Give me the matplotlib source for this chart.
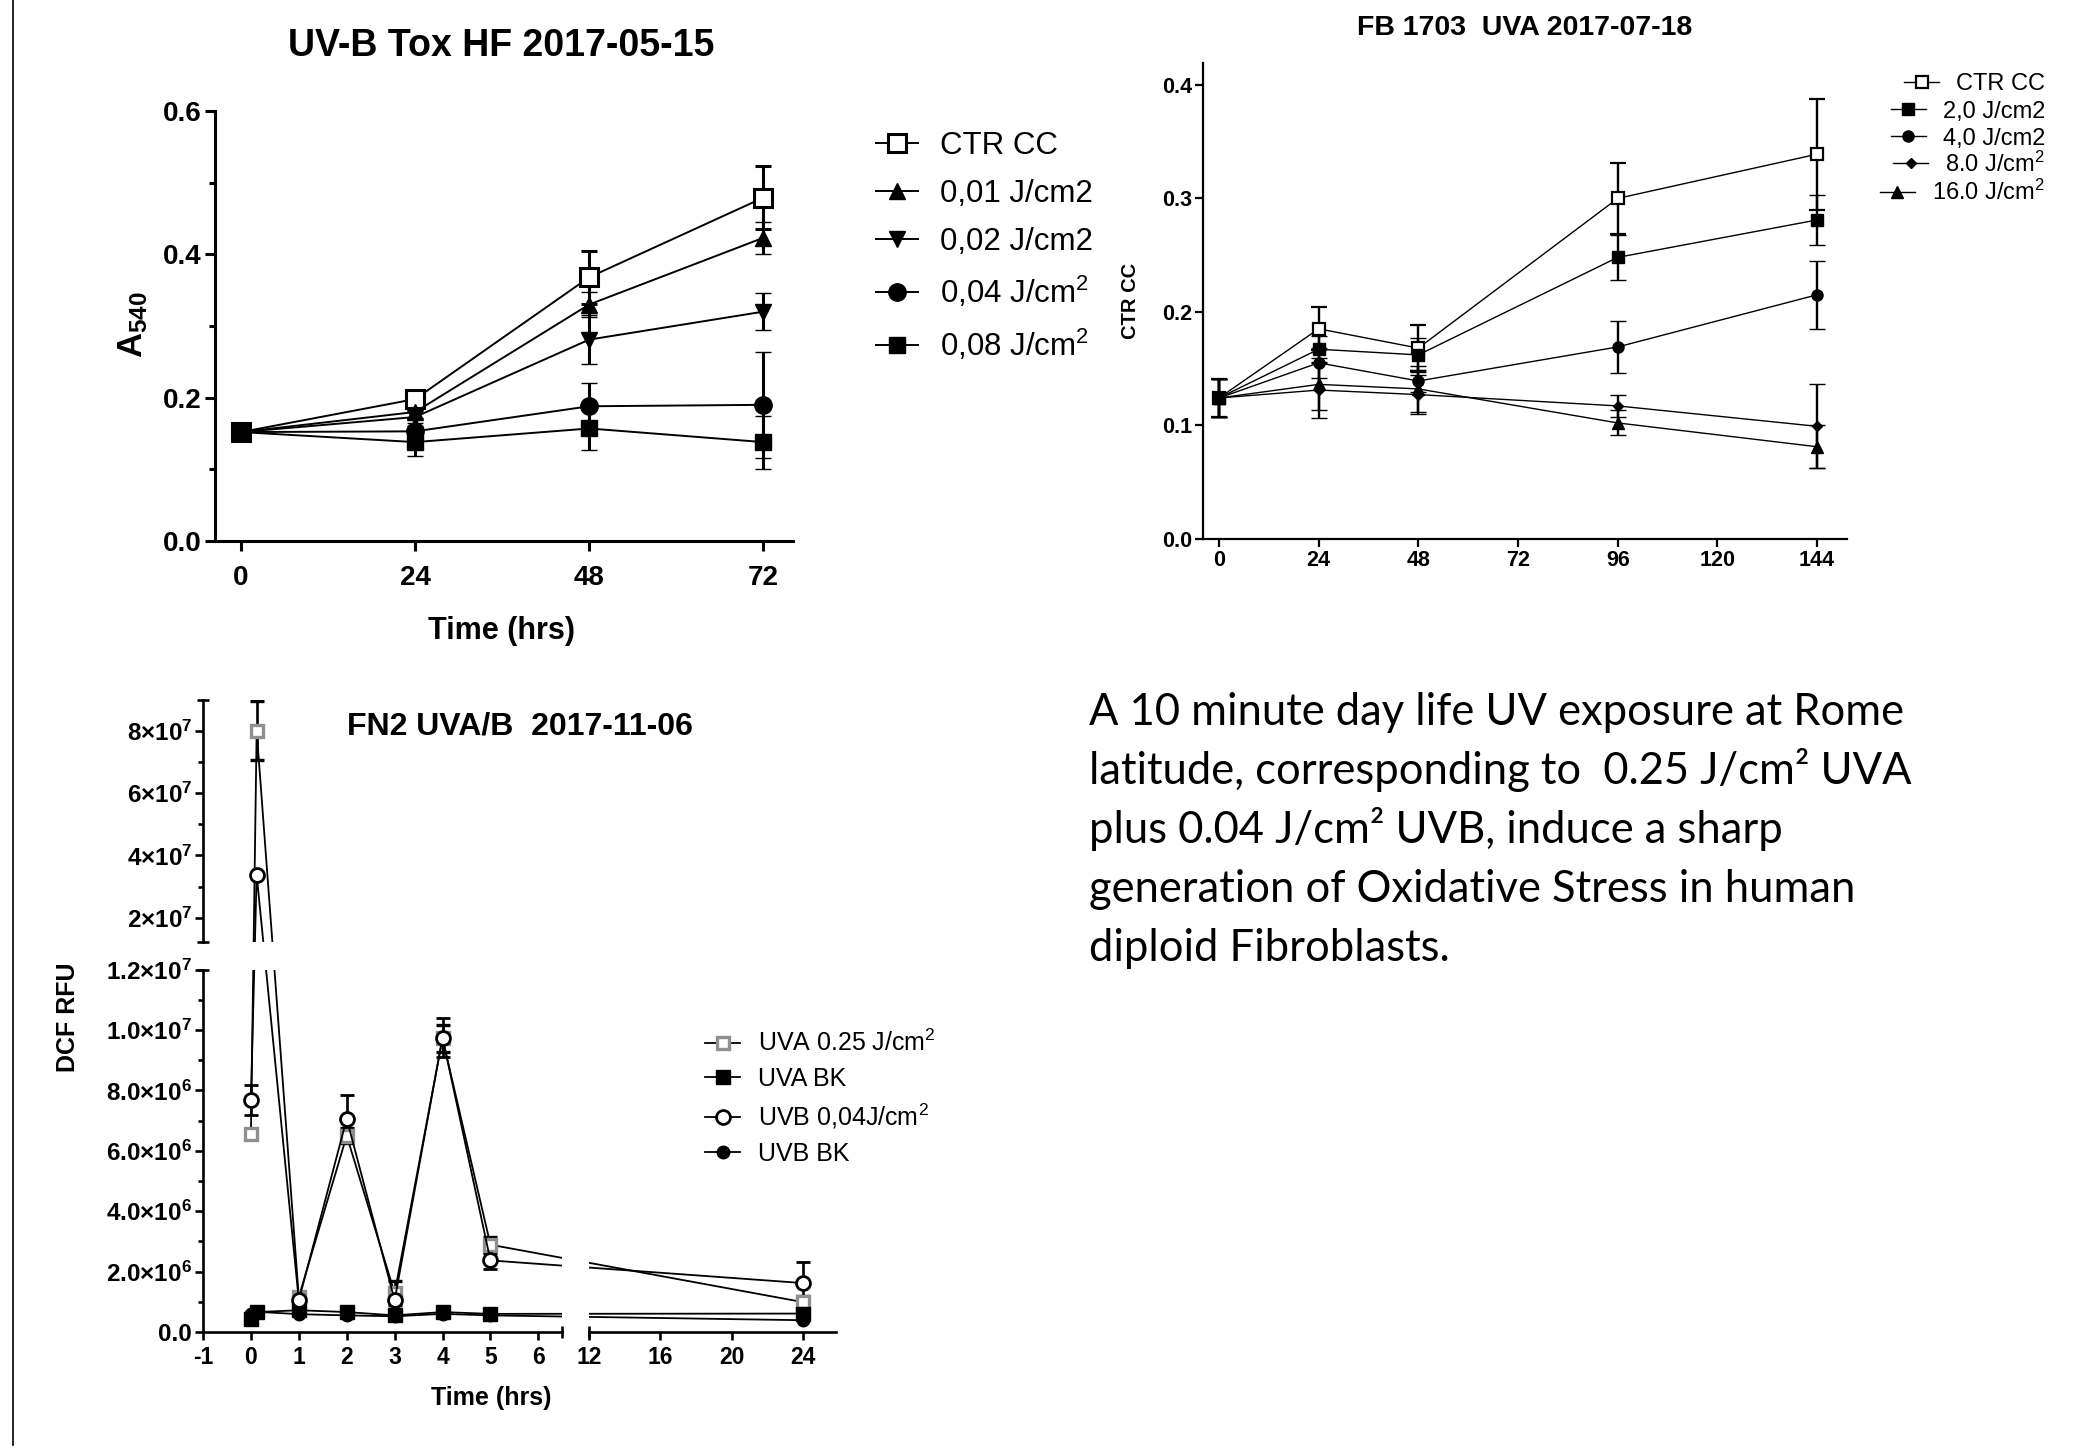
import numpy as np
import matplotlib
matplotlib.use("Agg")
import matplotlib.pyplot as plt
from matplotlib.lines import Line2D

# ---------------- data ----------------
# Panel 1: UV-B Tox HF 2017-05-15
p1_title = "UV-B Tox HF 2017-05-15"
p1_time = [0, 24, 48, 72]
p1_labels = ["CTR CC", "0,01 J/cm2", "0,02 J/cm2", "0,04 J/cm$^{2}$", "0,08 J/cm$^{2}$"]
p1_ctr = [0.152, 0.198, 0.368, 0.479]
p1_ctr_err = [0.005, 0.010, 0.037, 0.044]
p1_d001 = [0.152, 0.180, 0.330, 0.423]
p1_d001_err = [0.005, 0.008, 0.018, 0.022]
p1_d002 = [0.152, 0.173, 0.281, 0.320]
p1_d002_err = [0.005, 0.008, 0.034, 0.026]
p1_d004 = [0.152, 0.153, 0.188, 0.190]
p1_d004_err = [0.005, 0.007, 0.033, 0.074]
p1_d008 = [0.152, 0.138, 0.157, 0.138]
p1_d008_err = [0.005, 0.019, 0.030, 0.037]
p1_yticks = [0.0, 0.2, 0.4, 0.6]
p1_yticklabels = ["0.0", "0.2", "0.4", "0.6"]
p1_yminor = [0.1, 0.3, 0.5]
p1_xticks = [0, 24, 48, 72]

# Panel 2: FB 1703 UVA 2017-07-18
p2_title = "FB 1703  UVA 2017-07-18"
p2_time = [0, 24, 48, 96, 144]
p2_labels = ["CTR CC", "2,0 J/cm2", "4,0 J/cm2", "8.0 J/cm$^{2}$", "16.0 J/cm$^{2}$"]
p2_ctr = [0.124, 0.185, 0.168, 0.300, 0.339]
p2_ctr_err = [0.017, 0.019, 0.020, 0.031, 0.049]
p2_d2 = [0.124, 0.167, 0.162, 0.248, 0.281]
p2_d2_err = [0.017, 0.012, 0.015, 0.020, 0.022]
p2_d4 = [0.124, 0.155, 0.139, 0.169, 0.215]
p2_d4_err = [0.017, 0.013, 0.010, 0.023, 0.030]
p2_d8 = [0.124, 0.131, 0.127, 0.117, 0.099]
p2_d8_err = [0.017, 0.025, 0.017, 0.010, 0.037]
p2_d16 = [0.124, 0.136, 0.132, 0.102, 0.081]
p2_d16_err = [0.017, 0.023, 0.020, 0.011, 0.019]
p2_xticks = [0, 24, 48, 72, 96, 120, 144]
p2_yticks = [0.0, 0.1, 0.2, 0.3, 0.4]
p2_yticklabels = ["0.0", "0.1", "0.2", "0.3", "0.4"]

# Panel 3: FN2 UVA/B 2017-11-06 (broken axes)
p3_title = "FN2 UVA/B  2017-11-06"
p3_time = [0, 0.12, 1, 2, 3, 4, 5, 24]
p3_labels = ["UVA 0.25 J/cm$^{2}$", "UVA BK", "UVB 0,04J/cm$^{2}$", "UVB BK"]
p3_uva = [6.55e6, 8.0e7, 1.16e6, 6.5e6, 1.29e6, 9.72e6, 2.89e6, 0.99e6]
p3_uva_err = [0.15e6, 0.95e7, 0.15e6, 0.25e6, 0.40e6, 0.45e6, 0.26e6, 0.20e6]
p3_uvabk = [0.44e6, 0.66e6, 0.72e6, 0.66e6, 0.55e6, 0.66e6, 0.60e6, 0.61e6]
p3_uvabk_err = [0.05e6, 0.05e6, 0.05e6, 0.05e6, 0.05e6, 0.05e6, 0.05e6, 0.05e6]
p3_uvb = [7.68e6, 3.38e7, 1.05e6, 7.06e6, 1.05e6, 9.75e6, 2.37e6, 1.62e6]
p3_uvb_err = [0.50e6, 0.10e6, 0.10e6, 0.78e6, 0.30e6, 0.65e6, 0.27e6, 0.70e6]
p3_uvbbk = [0.59e6, 0.67e6, 0.59e6, 0.55e6, 0.52e6, 0.60e6, 0.55e6, 0.39e6]
p3_uvbbk_err = [0.03e6, 0.03e6, 0.03e6, 0.03e6, 0.03e6, 0.03e6, 0.03e6, 0.03e6]
p3_xticks = [-1, 0, 1, 2, 3, 4, 5, 6, 12, 16, 20, 24]
p3_xticklabels = ["-1", "0", "1", "2", "3", "4", "5", "6", "12", "16", "20", "24"]
p3_yticks = [0, 2e6, 4e6, 6e6, 8e6, 1.0e7, 1.2e7, 2e7, 4e7, 6e7, 8e7]
p3_yticklabels = ["0.0", "2.0×10$^{\\mathbf{6}}$", "4.0×10$^{\\mathbf{6}}$", "6.0×10$^{\\mathbf{6}}$",
                  "8.0×10$^{\\mathbf{6}}$", "1.0×10$^{\\mathbf{7}}$", "1.2×10$^{\\mathbf{7}}$",
                  "2×10$^{\\mathbf{7}}$", "4×10$^{\\mathbf{7}}$", "6×10$^{\\mathbf{7}}$", "8×10$^{\\mathbf{7}}$"]
p3_yminor = [1e6, 3e6, 5e6, 7e6, 9e6, 1.1e7, 3e7, 5e7, 7e7]

text_lines = [
    "A 10 minute day life UV exposure at Rome",
    "latitude, corresponding to  0.25 J/cm\u00b2 UVA",
    "plus 0.04 J/cm\u00b2 UVB, induce a sharp",
    "generation of Oxidative Stress in human",
    "diploid Fibroblasts.",
]

# ---------------- style ----------------
plt.rcParams["font.family"] = ["Liberation Sans", "DejaVu Sans"]
plt.rcParams["mathtext.fontset"] = "custom"
plt.rcParams["mathtext.rm"] = "Liberation Sans"
plt.rcParams["mathtext.bf"] = "Liberation Sans:bold"
plt.rcParams["mathtext.it"] = "Liberation Sans:italic"
plt.rcParams["mathtext.default"] = "regular"

W, H = 2080, 1453
fig = plt.figure(figsize=(20.8, 14.53), dpi=100)


def box(l, r, t, b):
    return [l / W, 1 - b / H, (r - l) / W, (b - t) / H]


def fpos(x, y):
    return x / W, 1 - y / H


def series(ax, x, y, e, marker, ms, mfc, mec, lw, elw, cap, mew, zorder=2):
    c = ax.errorbar(x, y, yerr=e, fmt="-", marker=marker, ms=ms, mfc=mfc, mec=mec,
                    mew=mew, color="black", lw=lw, ecolor="black", elinewidth=elw,
                    capsize=cap, capthick=elw, zorder=zorder)
    return c[0]


# ---------------- panel 1 ----------------
ax1 = fig.add_axes(box(215, 793, 111, 541))
ax1.set_xlim(-3.59, 76.1)
ax1.set_ylim(0, 0.6)
for s in ["top", "right"]:
    ax1.spines[s].set_visible(False)
for s in ["left", "bottom"]:
    ax1.spines[s].set_linewidth(2.2)
kw1 = dict(lw=1.4, elw=2.2, cap=6)
h1 = [
    series(ax1, p1_time, p1_ctr, p1_ctr_err, "s", 13, "white", "black", mew=2.2, **kw1),
    series(ax1, p1_time, p1_d001, p1_d001_err, "^", 12, "black", "black", mew=1, **kw1),
    series(ax1, p1_time, p1_d002, p1_d002_err, "v", 12, "black", "black", mew=1, **kw1),
    series(ax1, p1_time, p1_d004, p1_d004_err, "o", 12.5, "black", "black", mew=1, **kw1),
    series(ax1, p1_time, p1_d008, p1_d008_err, "s", 12, "black", "black", mew=1, **kw1),
]
ax1.set_xticks(p1_xticks, labels=[str(v) for v in p1_xticks], fontsize=20, fontweight="bold")
ax1.set_yticks(p1_yticks, labels=p1_yticklabels, fontsize=20, fontweight="bold")
ax1.set_yticks(p1_yminor, minor=True)
ax1.tick_params(axis="x", which="major", length=7.5, width=2.2, pad=10)
ax1.tick_params(axis="y", which="major", length=7.5, width=2.2, pad=2)
ax1.tick_params(axis="y", which="minor", length=4.5, width=2.2)
fig.text(*fpos(501.6, 46), p1_title, ha="center", va="center", fontsize=27, fontweight="bold")
fig.text(*fpos(501.6, 631), "Time (hrs)", ha="center", va="center", fontsize=22, fontweight="bold")
fig.text(*fpos(133, 325), "A$_{\\mathbf{540}}$", ha="center", va="center", rotation=90,
         fontsize=25, fontweight="bold")
fig.legend(h1, p1_labels, loc="upper left", bbox_to_anchor=fpos(876, 131), frameon=False,
           fontsize=22.5, handlelength=1.34, handletextpad=0.7, labelspacing=0.57,
           borderpad=0, borderaxespad=0)

# ---------------- panel 2 ----------------
ax2 = fig.add_axes(box(1203, 1847, 63, 538.6))
ax2.set_xlim(-3.85, 151.2)
ax2.set_ylim(0, 0.4194)
for s in ["top", "right"]:
    ax2.spines[s].set_visible(False)
for s in ["left", "bottom"]:
    ax2.spines[s].set_linewidth(1.6)
kw2 = dict(lw=1.0, elw=1.7, cap=6)
h2 = [
    series(ax2, p2_time, p2_ctr, p2_ctr_err, "s", 8.5, "white", "black", mew=1.6, **kw2),
    series(ax2, p2_time, p2_d2, p2_d2_err, "s", 8, "black", "black", mew=1, **kw2),
    series(ax2, p2_time, p2_d4, p2_d4_err, "o", 8, "black", "black", mew=1, **kw2),
    series(ax2, p2_time, p2_d8, p2_d8_err, "D", 5.5, "black", "black", mew=1, **kw2),
    series(ax2, p2_time, p2_d16, p2_d16_err, "^", 8, "black", "black", mew=1, **kw2),
]
ax2.set_xticks(p2_xticks, labels=[str(v) for v in p2_xticks], fontsize=15.5, fontweight="bold")
ax2.set_yticks(p2_yticks, labels=p2_yticklabels, fontsize=15.5, fontweight="bold")
ax2.tick_params(which="major", length=6, width=1.6, pad=2)
fig.text(*fpos(1525, 28), p2_title, ha="center", va="center", fontsize=20.5, fontweight="bold")
fig.text(*fpos(1131, 301), "CTR CC", ha="center", va="center", rotation=90,
         fontsize=14.5, fontweight="bold")

# right-aligned legend (as in the original)
p2_leg_right = 2045
p2_leg_rows = [81.7, 109.3, 136.0, 163.3, 191.7]
p2_leg_fs = 17
leg2_texts = []
for lab, yr in zip(p2_labels, p2_leg_rows):
    t = fig.text(*fpos(p2_leg_right, yr + 0.36 * p2_leg_fs * 100 / 72), lab, ha="right",
                 va="baseline", fontsize=p2_leg_fs)
    leg2_texts.append(t)
fig.canvas.draw()
for t, hl, yr in zip(leg2_texts, h2, p2_leg_rows):
    x0 = t.get_window_extent().x0
    xe = x0 - 17
    xs = xe - 35
    fig.add_artist(Line2D([xs / W, xe / W], [1 - yr / H] * 2, transform=fig.transFigure,
                          color="black", lw=hl.get_linewidth()))
    fig.add_artist(Line2D([(xs + xe) / 2 / W], [1 - yr / H], transform=fig.transFigure,
                          ls="none", marker=hl.get_marker(), ms=hl.get_markersize(),
                          mfc=hl.get_markerfacecolor(), mec=hl.get_markeredgecolor(),
                          mew=hl.get_markeredgewidth()))

# ---------------- panel 3 (broken axes) ----------------
# piecewise-linear display mapping (layout constants, pixels per unit)
S1, GAPX, S2 = 47.9, 27.0, 17.8
X_BRK0, X_BRK1, X3MIN, X3MAX = 6.5, 12.0, -1.0, 25.86
xb_d = np.array([-100.0, X_BRK0, X_BRK1, 200.0])
xb_u = np.array([(-100.0 - X3MIN) * S1, (X_BRK0 - X3MIN) * S1,
                 (X_BRK0 - X3MIN) * S1 + GAPX,
                 (X_BRK0 - X3MIN) * S1 + GAPX + (200.0 - X_BRK1) * S2])
L1, GAPY, L2 = 362.4, 28.0, 242.0
Y_BRK0, Y_BRK1, Y3MAX = 1.2e7, 1.24e7, 9e7
yb_d = np.array([-1e9, Y_BRK0, Y_BRK1, 1e9])
yb_v = np.array([-1e9 / Y_BRK0 * L1, L1, L1 + GAPY,
                 L1 + GAPY + (1e9 - Y_BRK1) / (Y3MAX - Y_BRK1) * L2])


def fxf(x):
    return np.interp(np.asarray(x, dtype=float), xb_d, xb_u)


def fxi(u):
    return np.interp(np.asarray(u, dtype=float), xb_u, xb_d)


def fyf(y):
    return np.interp(np.asarray(y, dtype=float), yb_d, yb_v)


def fyi(v):
    return np.interp(np.asarray(v, dtype=float), yb_v, yb_d)


ax3 = fig.add_axes(box(203, 836, 699.5, 1332))
ax3.set_xscale("function", functions=(fxf, fxi))
ax3.set_yscale("function", functions=(fyf, fyi))
ax3.set_xlim(X3MIN, X3MAX)
ax3.set_ylim(0, Y3MAX)
for s in ax3.spines.values():
    s.set_visible(False)
kw3 = dict(lw=1.3, elw=1.9, cap=5.3)
h3 = [
    series(ax3, p3_time, p3_uva, p3_uva_err, "s", 9, "white", "#8f8f8f", mew=2.4, **kw3),
    series(ax3, p3_time, p3_uvabk, p3_uvabk_err, "s", 9.5, "black", "black", mew=1, **kw3),
    series(ax3, p3_time, p3_uvb, p3_uvb_err, "o", 10, "white", "black", mew=2.0, **kw3),
    series(ax3, p3_time, p3_uvbbk, p3_uvbbk_err, "o", 9, "black", "black", mew=1, **kw3),
]
# white masks at the axis breaks
ax3.axvspan(X_BRK0, X_BRK1, color="white", lw=0, zorder=2.6)
ax3.axhspan(Y_BRK0, Y_BRK1, color="white", lw=0, zorder=2.6)
# broken axis lines
akw = dict(color="black", lw=1.9, clip_on=False, zorder=4, solid_capstyle="projecting")
ax3.plot([X3MIN, X_BRK0], [0, 0], **akw)
ax3.plot([X_BRK1, X3MAX], [0, 0], **akw)
ax3.plot([X3MIN, X3MIN], [0, Y_BRK0], **akw)
ax3.plot([X3MIN, X3MIN], [Y_BRK1, Y3MAX], **akw)
ax3.plot([X_BRK0, X_BRK1], [0, 0], ls="none", marker="|", ms=8, mew=1.9, color="black",
         clip_on=False, zorder=4)
ax3.plot([X3MIN] * 3, [Y_BRK0, Y_BRK1, Y3MAX], ls="none", marker="_", ms=8, mew=1.9,
         color="black", clip_on=False, zorder=4)
ax3.set_xticks(p3_xticks, labels=p3_xticklabels, fontsize=16.5, fontweight="bold")
ax3.set_yticks(p3_yticks, labels=p3_yticklabels, fontsize=17.5, fontweight="bold")
ax3.set_yticks(p3_yminor, minor=True)
ax3.set_xticks([], minor=True)
ax3.tick_params(which="major", length=5.8, width=1.9)
ax3.tick_params(axis="x", which="major", pad=4)
ax3.tick_params(axis="y", which="major", pad=2)
ax3.tick_params(which="minor", length=3.6, width=1.9)
fig.text(*fpos(519.5, 726), p3_title, ha="center", va="center", fontsize=23, fontweight="bold")
fig.text(*fpos(491, 1398.5), "Time (hrs)", ha="center", va="center", fontsize=18, fontweight="bold")
fig.text(*fpos(68, 1017), "DCF RFU", ha="center", va="center", rotation=90,
         fontsize=18, fontweight="bold")
fig.legend(h3, p3_labels, loc="upper left", bbox_to_anchor=fpos(705, 1030), frameon=False,
           fontsize=18, handlelength=1.4, handletextpad=0.72, labelspacing=0.43,
           borderpad=0, borderaxespad=0)

# ---------------- text block ----------------
baselines = [725, 784, 843, 902, 961]
tfont = ["Lato", "DejaVu Sans"]
target_w = 815.0
fs = 28.0
probe = fig.text(0, 0, text_lines[0], fontsize=fs, family=tfont)
fig.canvas.draw()
wpx = probe.get_window_extent().width
fs = fs * target_w / wpx
probe.remove()
for line, yb in zip(text_lines, baselines):
    fig.text(*fpos(1089, yb), line, ha="left", va="baseline", fontsize=fs, family=tfont)

# left border line
fig.add_artist(Line2D([12.5 / W, 12.5 / W], [1 - 1445 / H, 1.0], transform=fig.transFigure,
                      color="black", lw=1.2))

fig.savefig("out.png", dpi=100)
